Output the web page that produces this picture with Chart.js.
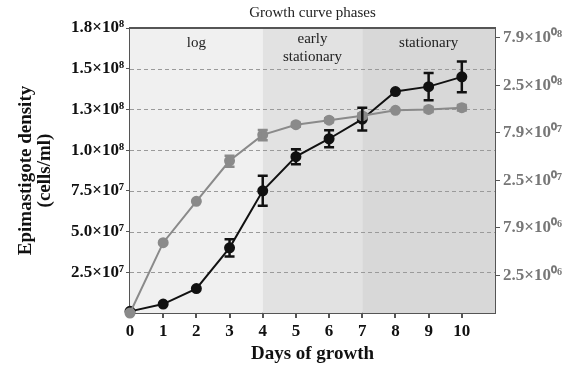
<!DOCTYPE html>
<html lang="en">

<head>
    <meta charset="UTF-8">
    <title>Growth curve phases</title>
    <script src="https://cdn.jsdelivr.net/npm/chart.js"></script>
    <style>
        body {
            margin: 0;
            background: #ffffff;
        }

        .chart-container {
            width: 567px;
            height: 365px;
        }
    </style>
</head>

<body>
    <div class="chart-container">
        <canvas id="growthChart"></canvas>
    </div>

    <script>
        // Data
        const days = [0, 1, 2, 3, 4, 5, 6, 7, 8, 9, 10];
        const density = [1.0e6, 5.5e6, 1.5e7, 4.0e7, 7.5e7, 9.6e7, 1.07e8, 1.19e8, 1.36e8, 1.39e8, 1.45e8];
        const densityErr = [0, 0, 0, 5.3e6, 9.2e6, 4.6e6, 5.2e6, 7.0e6, 0, 8.4e6, 9.5e6];

        // right (log) axis ticks
        const logTickValues = [2.5e6, 7.9e6, 2.5e7, 7.9e7, 2.5e8, 7.9e8];
        const logTickLabels = ['2.5×10⁰⁶', '7.9×10⁰⁶', '2.5×10⁰⁷', '7.9×10⁰⁷', '2.5×10⁰⁸', '7.9×10⁰⁸'];

        // growth phases
        const phaseStart = [0, 4, 7];
        const phaseEnd = [4, 7, 11];
        const phaseNames = [['log'], ['early', 'stationary'], ['stationary']];
        const phaseColors = ['#f0f0f0', '#e2e2e2', '#d8d8d8'];

        const serif = '"Liberation Serif", "Times New Roman", serif';
        const axisColor = '#555555';

        const points = days.map((d, i) => ({ x: d, y: density[i] }));

        // Background shading + phase labels + frame + title
        const phasePlugin = {
            id: 'phases',
            beforeDatasetsDraw(chart) {
                const { ctx, chartArea: a, scales: { x } } = chart;
                ctx.save();
                phaseStart.forEach((s, i) => {
                    const x0 = x.getPixelForValue(s);
                    const x1 = x.getPixelForValue(phaseEnd[i]);
                    ctx.fillStyle = phaseColors[i];
                    ctx.fillRect(x0, a.top, x1 - x0, a.bottom - a.top);
                });
                // dashed grid on top of the shading
                const y = chart.scales.y;
                ctx.strokeStyle = '#9a9a9a';
                ctx.lineWidth = 1;
                ctx.setLineDash([4, 3]);
                y.ticks.forEach(t => {
                    if (t.value <= 0 || t.value >= y.max) return;
                    const py = Math.round(y.getPixelForValue(t.value)) + 0.5;
                    ctx.beginPath();
                    ctx.moveTo(a.left, py);
                    ctx.lineTo(a.right, py);
                    ctx.stroke();
                });
                ctx.setLineDash([]);
                ctx.fillStyle = '#222222';
                ctx.font = '15px ' + serif;
                ctx.textAlign = 'center';
                ctx.textBaseline = 'middle';
                phaseNames.forEach((lines, i) => {
                    const cx = x.getPixelForValue((phaseStart[i] + phaseEnd[i]) / 2);
                    lines.forEach((txt, j) => {
                        const cy = lines.length > 1 ? a.top + 11 + j * 18 : a.top + 15;
                        ctx.fillText(txt, cx, cy);
                    });
                });
                ctx.restore();
            },
            afterDraw(chart) {
                const { ctx, chartArea: a } = chart;
                ctx.save();
                ctx.strokeStyle = axisColor;
                ctx.lineWidth = 2;
                ctx.beginPath();
                ctx.moveTo(a.left, a.top);
                ctx.lineTo(a.right, a.top);
                ctx.stroke();
                ctx.fillStyle = '#222222';
                ctx.font = '15px ' + serif;
                ctx.textAlign = 'center';
                ctx.textBaseline = 'middle';
                ctx.fillText('Growth curve phases', (a.left + a.right) / 2, 13);
                ctx.restore();
            }
        };

        // Error bars for both datasets
        const errorBarPlugin = {
            id: 'errorBars',
            afterDatasetsDraw(chart) {
                const { ctx } = chart;
                ctx.save();
                chart.data.datasets.forEach((ds, di) => {
                    const meta = chart.getDatasetMeta(di);
                    const ys = chart.scales[ds.yAxisID];
                    ctx.strokeStyle = ds.borderColor;
                    ctx.lineWidth = 2.5;
                    meta.data.forEach((pt, i) => {
                        const e = densityErr[i];
                        if (!e) return;
                        const v = density[i];
                        const yTop = ys.getPixelForValue(v + e);
                        const yBot = ys.getPixelForValue(v - e);
                        ctx.beginPath();
                        ctx.moveTo(pt.x, yTop);
                        ctx.lineTo(pt.x, yBot);
                        ctx.moveTo(pt.x - 5, yTop);
                        ctx.lineTo(pt.x + 5, yTop);
                        ctx.moveTo(pt.x - 5, yBot);
                        ctx.lineTo(pt.x + 5, yBot);
                        ctx.stroke();
                    });
                });
                ctx.restore();
            }
        };

        const ctx = document.getElementById('growthChart').getContext('2d');
        new Chart(ctx, {
            type: 'line',
            data: {
                datasets: [{
                    label: 'log density',
                    data: points,
                    yAxisID: 'y1',
                    borderColor: '#8a8a8a',
                    backgroundColor: '#8a8a8a',
                    borderWidth: 2,
                    pointRadius: 4.5,
                    clip: false
                }, {
                    label: 'density',
                    data: points,
                    yAxisID: 'y',
                    borderColor: '#111111',
                    backgroundColor: '#111111',
                    borderWidth: 2,
                    pointRadius: 4.5,
                    clip: false
                }]
            },
            options: {
                responsive: true,
                maintainAspectRatio: false,
                animation: false,
                layout: { padding: { top: 28, left: 0, right: 0, bottom: 0 } },
                plugins: {
                    legend: { display: false },
                    tooltip: { enabled: false }
                },
                scales: {
                    x: {
                        type: 'linear',
                        min: 0,
                        max: 11,
                        afterBuildTicks: s => { s.ticks = s.ticks.filter(t => t.value <= 10); },
                        afterFit: s => { s.height = 52; },
                        ticks: {
                            stepSize: 1,
                            color: '#111',
                            font: { family: serif, size: 17, weight: 'bold' },
                            padding: 3
                        },
                        grid: { drawOnChartArea: false, drawTicks: true, tickLength: 5, color: axisColor, lineWidth: 2 },
                        border: { color: axisColor, width: 2 },
                        title: {
                            display: true,
                            text: 'Days of growth',
                            color: '#111',
                            font: { family: serif, size: 19, weight: 'bold' },
                            padding: { top: 0, bottom: 0 }
                        }
                    },
                    y: {
                        position: 'left',
                        min: 0,
                        max: 1.75e8,
                        afterFit: s => { s.width = 130; },
                        ticks: {
                            stepSize: 2.5e7,
                            color: '#111',
                            font: { family: serif, size: 17, weight: 'bold' },
                            padding: 2,
                            callback: v => {
                                if (v <= 0) return '';
                                return v < 1e8 ? (v / 1e7).toFixed(1) + '×10⁷' : (v / 1e8).toFixed(1) + '×10⁸';
                            }
                        },
                        grid: { drawOnChartArea: false, drawTicks: true, tickLength: 4, color: axisColor, lineWidth: 1 },
                        border: { color: axisColor, width: 2 },
                        title: {
                            display: true,
                            text: ['Epimastigote density', '(cells/ml)'],
                            color: '#111',
                            font: { family: serif, size: 19, weight: 'bold', lineHeight: 1.0 },
                            padding: { top: 17, bottom: 0 }
                        }
                    },
                    y1: {
                        type: 'logarithmic',
                        position: 'right',
                        min: 1e6,
                        max: 1e9,
                        afterFit: s => { s.width = 72; },
                        afterBuildTicks: s => { s.ticks = logTickValues.map(v => ({ value: v })); },
                        ticks: {
                            color: '#777',
                            font: { family: serif, size: 17, weight: 'bold' },
                            padding: 3,
                            callback: (v) => {
                                const i = logTickValues.indexOf(v);
                                return i >= 0 ? logTickLabels[i] : '';
                            }
                        },
                        grid: { drawOnChartArea: false, drawTicks: true, tickLength: 5, color: axisColor, lineWidth: 1 },
                        border: { color: axisColor, width: 2 }
                    }
                }
            },
            plugins: [phasePlugin, errorBarPlugin]
        });
    </script>
</body>

</html>
